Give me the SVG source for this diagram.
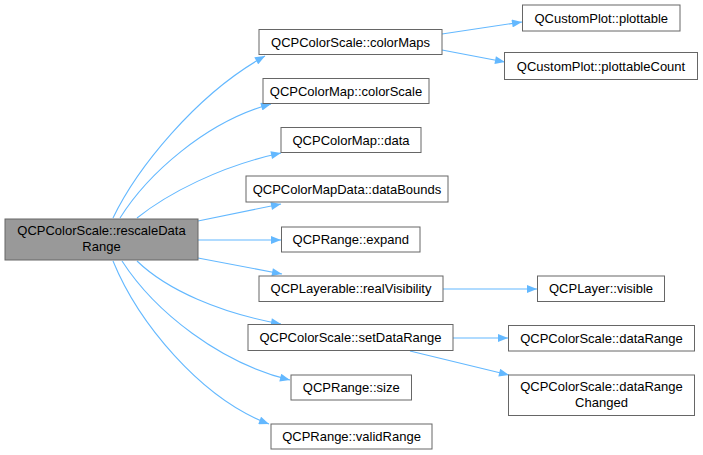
<svg xmlns="http://www.w3.org/2000/svg" width="703" height="455" viewBox="0 0 703 455">
<style>
.n rect{fill:#ffffff;stroke:#666666;stroke-width:1}
.m rect{fill:#999999;stroke:#666666;stroke-width:1}
text{font-family:"Liberation Sans",Arial,sans-serif;font-size:13px;fill:#000000;text-anchor:middle}
.e path{fill:none;stroke:#63b8ff;stroke-width:1.1}
</style>
<defs>
<marker id="a" viewBox="0 0 10 8" refX="10" refY="4" markerWidth="11" markerHeight="8" markerUnits="userSpaceOnUse" orient="auto">
<path d="M0,0 L10,4 L0,8 Z" fill="#63b8ff"/>
</marker>
</defs>
<rect width="703" height="455" fill="#ffffff"/>
<g class="e">
<path d="M113,218 C136,170 195,95 265,56" marker-end="url(#a)"/>
<path d="M120,218 C147,175 205,122 271,104" marker-end="url(#a)"/>
<path d="M137,218 C167,194 220,166 281,153" marker-end="url(#a)"/>
<path d="M198,221 L281,204" marker-end="url(#a)"/>
<path d="M198,240 L281,240" marker-end="url(#a)"/>
<path d="M198,258 L282,274" marker-end="url(#a)"/>
<path d="M137,261 C167,290 220,313 281,324" marker-end="url(#a)"/>
<path d="M122,261 C155,312 220,363 290,380" marker-end="url(#a)"/>
<path d="M113,261 C138,322 200,398 269,424" marker-end="url(#a)"/>
<path d="M442,34 L522,22" marker-end="url(#a)"/>
<path d="M442,50 L505,62" marker-end="url(#a)"/>
<path d="M443,289 L537,289" marker-end="url(#a)"/>
<path d="M453,338 L508,338" marker-end="url(#a)"/>
<path d="M410,351 L509,375" marker-end="url(#a)"/>
</g>
<g id="main" class="m"><rect x="5" y="219" width="193" height="41"/><text x="101.5" y="235">QCPColorScale::rescaleData</text><text x="101.5" y="251">Range</text></g>
<g id="colorMaps" class="n"><rect x="259" y="29.5" width="183" height="25"/><text x="350.5" y="46.5">QCPColorScale::colorMaps</text></g>
<g id="colorScale" class="n"><rect x="263" y="78.5" width="166" height="25"/><text x="346" y="95.5">QCPColorMap::colorScale</text></g>
<g id="data" class="n"><rect x="281" y="127.5" width="140" height="25"/><text x="351" y="144.5">QCPColorMap::data</text></g>
<g id="dataBounds" class="n"><rect x="246" y="176" width="202" height="26"/><text x="347" y="193.5">QCPColorMapData::dataBounds</text></g>
<g id="expand" class="n"><rect x="281.5" y="227" width="138.5" height="25"/><text x="350.75" y="244">QCPRange::expand</text></g>
<g id="realVisibility" class="n"><rect x="259" y="276" width="184" height="25.5"/><text x="351" y="293">QCPLayerable::realVisibility</text></g>
<g id="setDataRange" class="n"><rect x="248" y="324.5" width="205" height="26"/><text x="350.5" y="342">QCPColorScale::setDataRange</text></g>
<g id="size" class="n"><rect x="291" y="375" width="120.5" height="25"/><text x="351.25" y="392">QCPRange::size</text></g>
<g id="validRange" class="n"><rect x="271" y="424" width="161" height="25"/><text x="351.5" y="441">QCPRange::validRange</text></g>
<g id="plottable" class="n"><rect x="522.5" y="5" width="157.5" height="26"/><text x="601.25" y="22.5">QCustomPlot::plottable</text></g>
<g id="plottableCount" class="n"><rect x="504.5" y="52.5" width="193" height="27"/><text x="601" y="70.5">QCustomPlot::plottableCount</text></g>
<g id="visible" class="n"><rect x="537.5" y="276" width="127" height="25.5"/><text x="601" y="293">QCPLayer::visible</text></g>
<g id="dataRange" class="n"><rect x="508.5" y="325.5" width="186" height="25.5"/><text x="601.5" y="343">QCPColorScale::dataRange</text></g>
<g id="dataRangeChanged" class="n"><rect x="508.5" y="375" width="186" height="40.5"/><text x="601.5" y="391">QCPColorScale::dataRange</text><text x="601.5" y="407">Changed</text></g>
</svg>
